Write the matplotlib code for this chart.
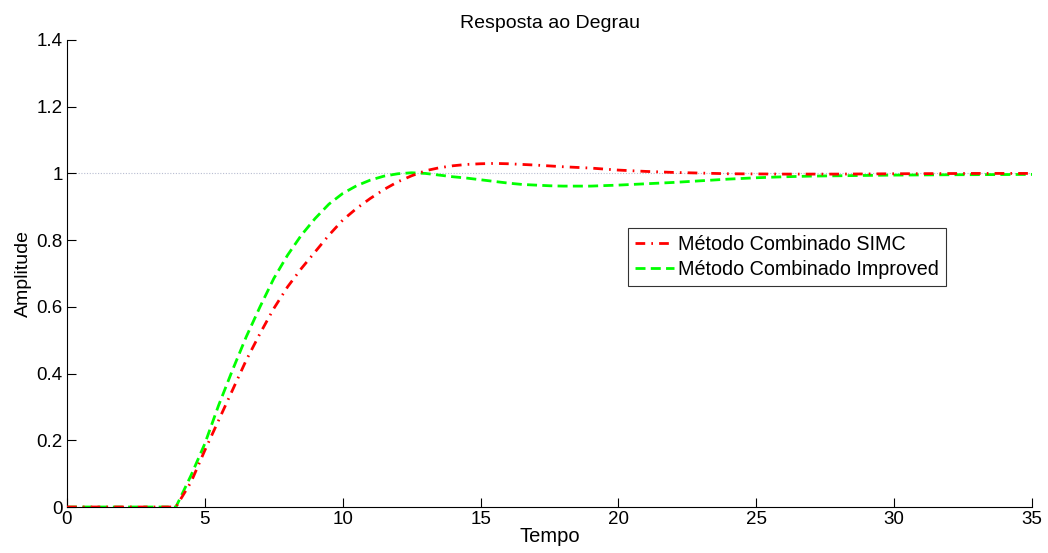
import matplotlib
matplotlib.use("Agg")
import matplotlib.pyplot as plt

plt.rcParams['font.family'] = ['Liberation Sans', 'DejaVu Sans']

# Data
t_simc = [0, 3.95, 4.5, 5.0, 5.5, 6.0, 6.5, 7.0, 7.5, 8.0, 8.5, 9.0, 9.5, 10.0, 10.5,
          11.0, 11.5, 12.0, 12.5, 13.0, 13.5, 14.0, 14.5, 15.0, 15.5, 16.0, 17.0,
          18.0, 19.0, 20.0, 21.0, 22.0, 23.0, 24.0, 26.0, 28.0, 30.0, 33.0, 35.0]
y_simc = [0, 0, 0.075, 0.17, 0.26, 0.35, 0.44, 0.52, 0.595, 0.66, 0.715, 0.765, 0.815,
          0.86, 0.895, 0.925, 0.952, 0.975, 0.993, 1.008, 1.017, 1.023, 1.027, 1.029,
          1.030, 1.029, 1.025, 1.020, 1.016, 1.010, 1.006, 1.003, 1.001, 0.999, 0.998,
          0.998, 0.999, 1.0, 1.0]

t_impr = [0, 3.95, 4.5, 5.0, 5.5, 6.0, 6.5, 7.0, 7.5, 8.0, 8.5, 9.0, 9.5, 10.0, 10.5,
          11.0, 11.5, 12.0, 12.5, 13.0, 13.5, 14.0, 14.5, 15.0, 15.5, 16.0, 16.5,
          17.0, 17.5, 18.0, 19.0, 20.0, 21.0, 22.0, 23.0, 24.0, 25.0, 26.0, 27.0,
          28.0, 30.0, 32.0, 35.0]
y_impr = [0, 0, 0.095, 0.19, 0.305, 0.41, 0.51, 0.60, 0.685, 0.755, 0.815, 0.865, 0.908,
          0.94, 0.963, 0.98, 0.992, 0.999, 1.002, 1.0, 0.995, 0.99, 0.986, 0.981, 0.976,
          0.971, 0.967, 0.965, 0.963, 0.962, 0.962, 0.965, 0.969, 0.973, 0.978, 0.983,
          0.987, 0.99, 0.992, 0.993, 0.995, 0.996, 0.997]

labels = ['Método Combinado SIMC', 'Método Combinado Improved']
x_ticks = [0, 5, 10, 15, 20, 25, 30, 35]
y_ticks = [0, 0.2, 0.4, 0.6, 0.8, 1.0, 1.2, 1.4]
y_tick_labels = ['0', '0.2', '0.4', '0.6', '0.8', '1', '1.2', '1.4']

fig = plt.figure(figsize=(10.48, 5.53), dpi=100)
ax = fig.add_axes([67/1048, 1-507/553, (1032-67)/1048, (507-40)/553])

ax.axhline(1.0, color=(0.72, 0.74, 0.82), linestyle=(0, (1, 1.5)), linewidth=0.8, zorder=1)

l1, = ax.plot(t_simc, y_simc, color='#ff0000', linewidth=2.0, label=labels[0], zorder=3)
l1.set_dashes((3.5, 2.2, 0.6, 2.2))
l2, = ax.plot(t_impr, y_impr, color='#00ff00', linewidth=2.0, label=labels[1], zorder=2)
l2.set_dashes((3.6, 1.9))

ax.set_xlim(0, 35)
ax.set_ylim(0, 1.4)
ax.set_xticks(x_ticks)
ax.set_xticklabels([str(v) for v in x_ticks])
ax.set_yticks(y_ticks)
ax.set_yticklabels(y_tick_labels)

for s in ['top', 'right']:
    ax.spines[s].set_visible(False)
for s in ['left', 'bottom']:
    ax.spines[s].set_linewidth(0.8)

ax.tick_params(direction='in', length=6.5, width=0.8, labelsize=13.5, pad=3)

ax.set_title('Resposta ao Degrau', fontsize=14, pad=9)
ax.set_xlabel('Tempo', fontsize=14.5, labelpad=-1)
ax.set_ylabel('Amplitude', fontsize=14, labelpad=3)

leg = ax.legend(loc='upper left', bbox_to_anchor=(628/1048, 1-228/553),
                bbox_transform=fig.transFigure, fontsize=14.2, frameon=True,
                fancybox=False, edgecolor='black', handlelength=2.0,
                handletextpad=0.2, borderpad=0.35, labelspacing=0.3, borderaxespad=0)
leg.get_frame().set_linewidth(0.8)

fig.savefig('out.png', dpi=100)
